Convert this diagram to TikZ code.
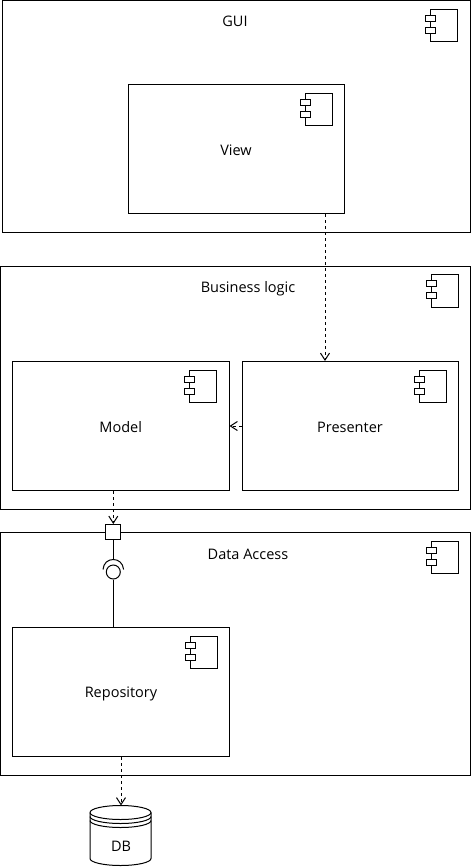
\documentclass[tikz,border=0pt]{standalone}
\usepackage{fontspec}
\setmainfont{Open Sans}
\usepackage{tikz}
\usetikzlibrary{arrows.meta, positioning, calc}

\newcommand{\compicon}[1]{%
  \draw[icon] ($(#1.north east)+(-40,9)$) rectangle ($(#1.north east)+(-13,41.5)$);
  \draw[icon, fill=white] ($(#1.north east)+(-45,15)$) rectangle ($(#1.north east)+(-35,21)$);
  \draw[icon, fill=white] ($(#1.north east)+(-45,27)$) rectangle ($(#1.north east)+(-35,33)$);
}

\begin{document}
\begin{tikzpicture}[
    x=1pt, y=-1pt,
    line width=1pt,
    box/.style={draw, rectangle, inner sep=0pt},
    label/.style={font=\fontsize{14.5}{16}\selectfont},
    icon/.style={draw, line width=1pt},
    arrow/.style={-{Straight Barb[length=7pt,width=9pt]}, dash pattern=on 3pt off 3pt},
]
\useasboundingbox (0,0) rectangle (472,868);

% GUI
\node[box, minimum width=468pt, minimum height=232pt] (gui) at (236,116.5) {};
\node[label] (guitext) at (235,21.5) {GUI};
\compicon{gui}

% View
\node[box, minimum width=216pt, minimum height=129pt] (view) at (236.5,149) {};
\node[label] (viewtext) at (236,150.5) {View};
\compicon{view}

% Business logic
\node[box, minimum width=470pt, minimum height=243.5pt] (business) at (235.5,387.75) {};
\node[label] (businesstext) at (248,288.5) {Business logic};
\compicon{business}

% Model
\node[box, minimum width=216.5pt, minimum height=129pt] (model) at (120.75,426) {};
\node[label] (modeltext) at (120.75,427.5) {Model};
\compicon{model}

% Presenter
\node[box, minimum width=216pt, minimum height=129pt] (presenter) at (350.5,426) {};
\node[label] (presentertext) at (350,427.5) {Presenter};
\compicon{presenter}

% Data Access
\node[box, minimum width=470pt, minimum height=243pt] (data) at (235.5,654) {};
\node[label] (datatext) at (248,554.5) {Data Access};
\compicon{data}

% Repository
\node[box, minimum width=217pt, minimum height=129pt] (repository) at (121,692) {};
\node[label] (repositorytext) at (121,693.5) {Repository};
\compicon{repository}

% Port and interface
\node[box, fill=white, minimum size=15pt] (port) at (113.3,532) {};
\node[draw, circle, minimum size=14pt, inner sep=0pt] (iface) at (113.3,572) {};
\coordinate (ifacetop) at (113.3,559.5);
\draw (103,569.5) .. controls (103.5,563) and (108,559.5) .. (ifacetop) .. controls (118.5,559.5) and (123,563) .. (123.6,569.5);

% DB
\node[minimum width=61pt, minimum height=60pt, inner sep=0pt] (db) at (121,836) {};
\node[label] (dbtext) at (121,846.5) {DB};
\draw (db.north west) ++(0,7) arc[start angle=180, end angle=0, x radius=30.5pt, y radius=7pt]
      -- ++(0,46) arc[start angle=0, end angle=-180, x radius=30.5pt, y radius=7pt] -- cycle;
\draw (db.north west) ++(0,7) arc[start angle=180, end angle=360, x radius=30.5pt, y radius=7pt];
\draw (db.north west) ++(0,11) arc[start angle=180, end angle=360, x radius=30.5pt, y radius=7pt];
\draw (db.north west) ++(0,15) arc[start angle=180, end angle=360, x radius=30.5pt, y radius=7pt];

% Arrows
\draw[arrow] (view.south -| 325,0) -- (presenter.north -| 325,0);
\draw[arrow] (presenter.west) -- (model.east);
\draw[arrow] (model.south -| port.north) -- (port.north);
\draw (port.south) -- (ifacetop);
\draw (iface.south) -- (repository.north -| iface.south);
\draw[arrow] (repository.south) -- (db.north);

\end{tikzpicture}
\end{document}
